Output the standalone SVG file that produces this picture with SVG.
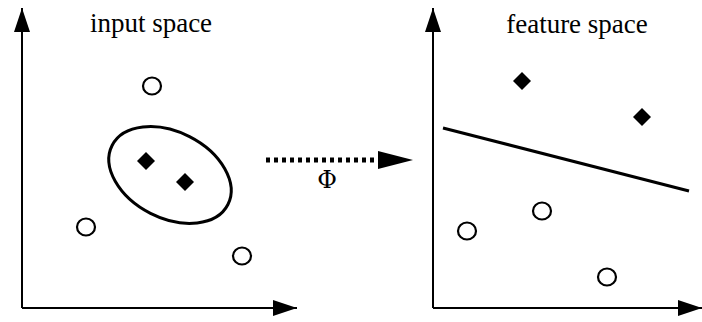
<svg xmlns="http://www.w3.org/2000/svg" width="702" height="322" viewBox="0 0 702 322">
<style>
.ax{stroke:#000;stroke-width:2;fill:none}
.pt{fill:#fff;stroke:#000;stroke-width:2.2}
.dm{fill:#000}
.t{font-family:"Liberation Serif","Times New Roman",serif;fill:#000}
.phi{font-family:"DejaVu Serif",serif;fill:#000}
</style>
<defs>
<marker id="ah" viewBox="0 0 24 16" refX="24" refY="8" markerWidth="24" markerHeight="16" markerUnits="userSpaceOnUse" orient="auto">
<path d="M0,0 L24,8 L0,16 Z" fill="#000"/>
</marker>
<path id="dia" d="M0,-9 L9,0 L0,9 L-9,0 Z"/>
</defs>
<rect width="702" height="322" fill="#fff"/>
<g id="connectors">
<line class="ax" x1="22" y1="308" x2="22" y2="8" marker-end="url(#ah)"/>
<line class="ax" x1="22" y1="308" x2="297" y2="308" marker-end="url(#ah)"/>
<line class="ax" x1="433" y1="308" x2="433" y2="8" marker-end="url(#ah)"/>
<line class="ax" x1="433" y1="308" x2="702" y2="308" marker-end="url(#ah)"/>
<line x1="266" y1="160" x2="380" y2="160" stroke="#000" stroke-width="5" stroke-dasharray="4 4"/>
<path d="M378,151 L413,160 L378,169 Z" fill="#000"/>
<line x1="443" y1="128" x2="689" y2="191" stroke="#000" stroke-width="3"/>
</g>
<g id="labels">
<text class="t" x="151" y="32" font-size="27" text-anchor="middle">input space</text>
<text class="t" x="577" y="33" font-size="27" text-anchor="middle">feature space</text>
<text class="phi" x="327" y="188" font-size="24" text-anchor="middle">Φ</text>
</g>
<g id="input-space">
<ellipse cx="170" cy="175" rx="65" ry="43" transform="rotate(27 170 175)" fill="none" stroke="#000" stroke-width="3"/>
<ellipse class="pt" cx="152" cy="86" rx="9" ry="8.5"/>
<ellipse class="pt" cx="86" cy="227" rx="9" ry="8.5"/>
<ellipse class="pt" cx="242" cy="256" rx="9" ry="8.5"/>
<use href="#dia" class="dm" x="146" y="161"/>
<use href="#dia" class="dm" x="185" y="182"/>
</g>
<g id="feature-space">
<use href="#dia" class="dm" x="522" y="81"/>
<use href="#dia" class="dm" x="642" y="117"/>
<ellipse class="pt" cx="542" cy="211" rx="9" ry="8.5"/>
<ellipse class="pt" cx="467" cy="231" rx="9" ry="8.5"/>
<ellipse class="pt" cx="607" cy="277" rx="9" ry="8.5"/>
</g>
</svg>
